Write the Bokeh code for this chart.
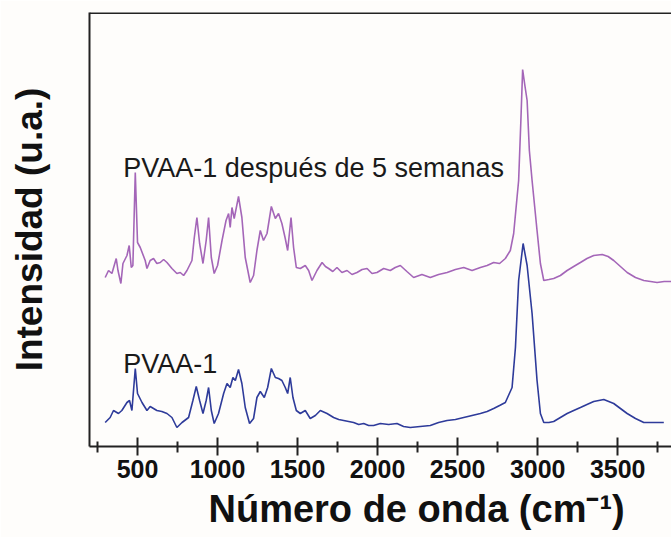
from bokeh.plotting import figure
from bokeh.models import Range1d, FixedTicker, Span, Label, Title
from bokeh.embed import file_html
from bokeh.resources import INLINE

# PVAA-1 después de 5 semanas (upper, purple)
wn_after = [298, 319, 340, 367, 378, 396, 409, 434, 448, 461, 471, 486, 500, 517, 548, 559, 579, 600,
            621, 642, 663, 684, 715, 746, 767, 788, 809, 840, 854, 871, 888, 909, 929, 944, 961, 979,
            1000, 1028, 1053, 1069, 1079, 1090, 1104, 1131, 1152, 1173, 1204, 1225, 1246, 1267, 1287,
            1309, 1336, 1361, 1381, 1402, 1423, 1438, 1459, 1475, 1492, 1517, 1548, 1569, 1590, 1621,
            1653, 1674, 1694, 1720, 1746, 1777, 1809, 1840, 1871, 1903, 1934, 1965, 1996, 2038, 2079,
            2110, 2142, 2183, 2225, 2277, 2329, 2381, 2434, 2486, 2538, 2590, 2642, 2684, 2725, 2762,
            2798, 2829, 2850, 2871, 2881, 2895, 2906, 2920, 2934, 2948, 2965, 2996, 3017, 3038, 3070,
            3100, 3142, 3184, 3225, 3267, 3308, 3350, 3403, 3440, 3475, 3517, 3559, 3611, 3663, 3705,
            3746, 3790, 3836]
int_after = [169, 176, 173, 188, 176, 163, 183, 191, 201, 179, 181, 274, 204, 199, 186, 178, 186, 188,
             183, 184, 187, 184, 178, 173, 174, 171, 176, 186, 208, 229, 203, 183, 206, 229, 189, 173,
             181, 206, 226, 233, 219, 239, 228, 250, 229, 189, 164, 171, 196, 216, 206,
             213, 240, 228, 233, 223, 208, 196, 229, 199, 179, 178, 181, 176, 166, 176,
             184, 180, 178, 175, 179, 174, 176, 172, 174, 177, 178, 173, 174, 178, 176,
             179, 181, 175, 169, 172, 169, 172, 174, 177, 179, 176, 179, 181, 184, 183,
             188, 196, 213, 249, 266, 326, 377, 361, 346, 296, 266, 216, 183, 166, 167,
             168, 171, 176, 180, 184, 188, 191, 192, 190, 186, 180, 174, 169, 166, 165,
             164, 165, 165]

# PVAA-1 (lower, blue)
wn_before = [298, 329, 350, 381, 402, 434, 450, 465, 486, 500, 528, 559, 579, 621, 652, 684, 715, 746,
             778, 819, 846, 867, 888, 909, 929, 944, 961, 979, 1006, 1038, 1059, 1079, 1096, 1111,
             1131, 1152, 1173, 1200, 1225, 1246, 1267, 1292, 1313, 1336, 1361, 1381, 1402, 1423, 1438,
             1454, 1471, 1492, 1517, 1548, 1579, 1611, 1642, 1684, 1725, 1757, 1788, 1819, 1850, 1882,
             1913, 1944, 1975, 2017, 2069, 2121, 2162, 2204, 2266, 2329, 2381, 2434, 2486, 2538, 2590,
             2642, 2684, 2725, 2762, 2798, 2840, 2861, 2881, 2909, 2934, 2965, 2996, 3017, 3038, 3070,
             3100, 3142, 3184, 3225, 3267, 3308, 3350, 3413, 3475, 3517, 3559, 3611, 3663, 3725, 3788]
int_before = [24, 29, 36, 33, 36, 44, 46, 36, 78, 53, 44, 36, 40, 36, 35, 33, 29, 19,
              24, 29, 46, 60, 46, 33, 46, 59, 36, 23, 33, 53, 63, 59, 69, 66,
              77, 63, 39, 23, 28, 49, 55, 49, 59, 78, 69, 68, 66, 59, 53,
              69, 49, 36, 33, 36, 28, 31, 36, 33, 29, 27, 26, 25, 24, 22,
              23, 21, 21, 23, 22, 23, 20, 19, 20, 21, 24, 26, 27, 29, 31,
              33, 35, 38, 41, 44, 59, 99, 166, 203, 181, 133, 66, 33, 24, 24,
              25, 29, 33, 36, 39, 42, 45, 47, 43, 38, 33, 28, 24, 24, 24]

x_ticks = [500, 1000, 1500, 2000, 2500, 3000, 3500]
x_minor = [250, 750, 1250, 1750, 2250, 2750, 3250, 3750]

label_after = "PVAA-1 después  de 5 semanas"
label_before = "PVAA-1"
x_title = "Número de onda (cm⁻¹)"
y_title = "Intensidad (u.a.)"

FONT = "Liberation Sans"
BG = "#fefdfb"

p = figure(width=671, height=537, output_backend="svg", toolbar_location=None,
           x_range=Range1d(200, 3836), y_range=Range1d(0, 434),
           min_border_left=89, min_border_right=0, min_border_top=12, min_border_bottom=91)
p.background_fill_color = BG
p.border_fill_color = BG
p.outline_line_color = None
p.grid.visible = False

p.line(wn_after, int_after, line_color="#a466b8", line_width=1.6)
p.line(wn_before, int_before, line_color="#2e3b9a", line_width=1.6)

p.add_layout(Label(x=411, y=279, text=label_after, text_font=FONT, text_font_size="27px",
                   text_color="#1a1a1a", text_baseline="alphabetic"))
p.add_layout(Label(x=411, y=83, text=label_before, text_font=FONT, text_font_size="27px",
                   text_color="#1a1a1a", text_baseline="alphabetic"))

# top border of frame
p.add_layout(Span(location=434, dimension="width", line_color="#222222", line_width=3))

xa = p.xaxis[0]
xa.ticker = FixedTicker(ticks=x_ticks, minor_ticks=x_minor)
xa.axis_line_width = 2
xa.axis_line_color = "#222222"
xa.major_tick_line_width = 2
xa.minor_tick_line_width = 2
xa.major_tick_line_color = "#222222"
xa.minor_tick_line_color = "#222222"
xa.major_tick_in = 9
xa.major_tick_out = 9
xa.minor_tick_in = 5
xa.minor_tick_out = 6
xa.major_label_standoff = 4
xa.major_label_text_font = FONT
xa.major_label_text_font_style = "bold"
xa.major_label_text_font_size = "25px"
xa.major_label_text_color = "#111111"

ya = p.yaxis[0]
ya.ticker = FixedTicker(ticks=[])
ya.axis_line_width = 2
ya.axis_line_color = "#222222"
ya.major_tick_line_color = None
ya.minor_tick_line_color = None
ya.axis_label = y_title
ya.axis_label_standoff = 40
ya.axis_label_text_font = FONT
ya.axis_label_text_font_style = "bold"
ya.axis_label_text_font_size = "37px"
ya.axis_label_text_color = "#111111"

xt = Title(text=x_title, align="left", offset=119, standoff=11, vertical_align="bottom",
           text_font=FONT, text_font_style="bold", text_font_size="38px", text_color="#111111")
p.add_layout(xt, "below")

open("out.html", "w").write(file_html(p, INLINE))
